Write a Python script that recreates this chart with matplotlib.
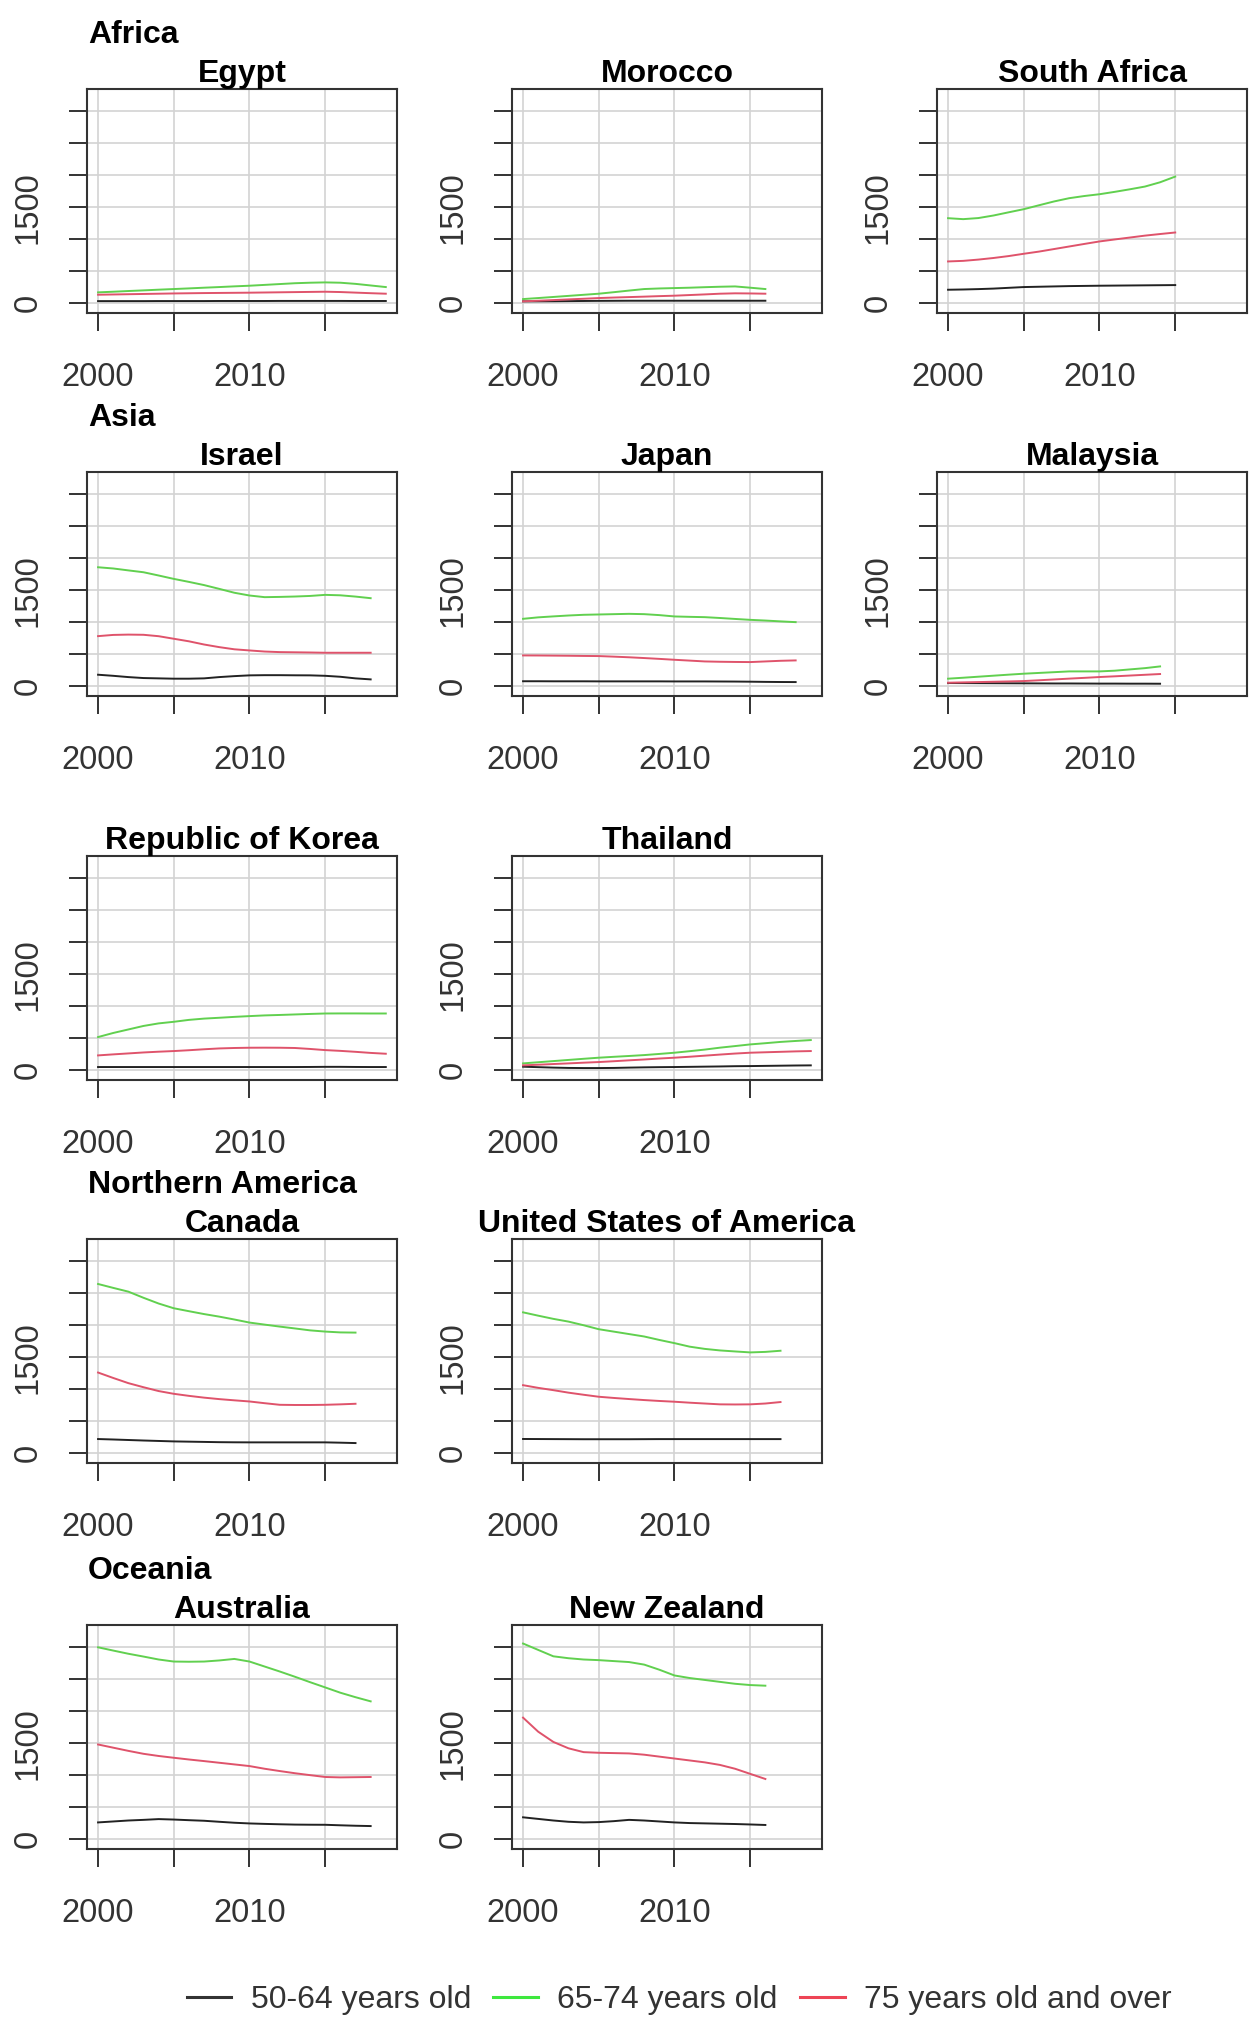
import matplotlib
matplotlib.use("Agg")
import matplotlib.pyplot as plt
from matplotlib.lines import Line2D

plt.rcParams["font.family"] = ["Liberation Sans", "DejaVu Sans"]

W, H = 1255, 2025

# age groups
age_labels = ["50-64 years old", "65-74 years old", "75 years old and over"]
line_colors = ["#222222", "#61D04F", "#DF536B"]
legend_colors = ["#333333", "#3EE83E", "#EE4455"]

# ---- data (per year) ----
egypt_years = list(range(2000, 2020))
egypt_b = [30, 30, 30, 30, 31, 31, 31, 31, 32, 32, 32, 32, 33, 33, 33, 33, 33, 32, 32, 32]
egypt_g = [167, 177, 188, 198, 209, 219, 229, 240, 250, 261, 271, 284, 297, 310, 318, 323, 318, 300, 275, 250]
egypt_r = [130, 134, 138, 142, 146, 150, 153, 156, 158, 160, 162, 165, 168, 171, 174, 177, 172, 163, 154, 146]

morocco_years = list(range(2000, 2017))
morocco_b = [26, 27, 28, 30, 32, 34, 35, 36, 36, 36, 36, 36, 36, 36, 36, 36, 36]
morocco_g = [62, 78, 95, 112, 129, 146, 170, 195, 219, 228, 234, 240, 248, 255, 260, 240, 219]
morocco_r = [26, 36, 46, 57, 67, 78, 86, 93, 100, 108, 115, 125, 135, 146, 152, 150, 146]

safrica_years = list(range(2000, 2016))
safrica_b = [208, 212, 218, 226, 238, 250, 255, 260, 265, 268, 271, 273, 275, 277, 279, 281]
safrica_g = [1328, 1313, 1330, 1370, 1420, 1469, 1530, 1590, 1641, 1675, 1703, 1740, 1780, 1823, 1890, 1979]
safrica_r = [651, 660, 680, 705, 735, 771, 805, 845, 885, 925, 964, 995, 1025, 1055, 1080, 1104]

israel_years = list(range(2000, 2019))
israel_b = [177, 160, 140, 125, 120, 115, 115, 120, 140, 155, 167, 170, 170, 168, 167, 160, 145, 120, 104]
israel_g = [1859, 1840, 1810, 1781, 1730, 1677, 1630, 1580, 1521, 1460, 1417, 1391, 1395, 1401, 1410, 1427, 1420, 1400, 1375]
israel_r = [781, 800, 805, 802, 780, 740, 700, 650, 609, 575, 557, 540, 531, 528, 525, 521, 521, 521, 521]

japan_years = list(range(2000, 2019))
japan_b = [75, 75, 74, 74, 74, 73, 73, 73, 73, 73, 72, 72, 72, 71, 70, 68, 65, 63, 62]
japan_g = [1052, 1075, 1090, 1104, 1115, 1120, 1125, 1130, 1125, 1110, 1089, 1083, 1078, 1065, 1050, 1036, 1025, 1012, 1000]
japan_r = [479, 478, 476, 474, 471, 469, 460, 450, 438, 425, 411, 398, 385, 380, 377, 375, 385, 395, 401]

malaysia_years = list(range(2000, 2015))
malaysia_b = [47, 46, 45, 44, 43, 42, 41, 40, 40, 39, 38, 38, 37, 37, 36]
malaysia_g = [115, 130, 146, 162, 178, 193, 205, 217, 229, 229, 229, 240, 260, 280, 307]
malaysia_r = [52, 57, 62, 67, 72, 78, 90, 103, 116, 128, 141, 152, 164, 176, 188]

korea_years = list(range(2000, 2020))
korea_b = [47, 47, 47, 47, 47, 47, 47, 47, 47, 47, 47, 47, 47, 47, 48, 50, 50, 48, 47, 47]
korea_g = [516, 580, 635, 690, 730, 755, 785, 805, 818, 832, 844, 855, 862, 870, 878, 885, 886, 886, 885, 885]
korea_r = [229, 245, 260, 275, 287, 297, 310, 325, 338, 345, 349, 350, 349, 345, 330, 312, 300, 285, 268, 255]

thailand_years = list(range(2000, 2020))
thailand_b = [52, 45, 38, 33, 31, 31, 33, 38, 42, 45, 47, 50, 53, 56, 60, 62, 65, 68, 71, 73]
thailand_g = [104, 122, 140, 158, 176, 193, 207, 220, 234, 252, 271, 295, 320, 350, 375, 401, 420, 440, 455, 469]
thailand_r = [73, 83, 94, 104, 115, 125, 138, 152, 165, 180, 193, 208, 225, 242, 258, 271, 278, 285, 292, 297]

canada_years = list(range(2000, 2018))
canada_b = [219, 212, 204, 196, 189, 182, 178, 174, 170, 168, 167, 167, 167, 167, 167, 167, 162, 156]
canada_g = [2646, 2585, 2526, 2430, 2340, 2266, 2220, 2175, 2135, 2090, 2042, 2010, 1979, 1950, 1920, 1901, 1888, 1885]
canada_r = [1260, 1175, 1094, 1030, 970, 927, 895, 867, 844, 825, 807, 780, 755, 752, 752, 755, 762, 771]

usa_years = list(range(2000, 2018))
usa_b = [220, 219, 218, 217, 216, 216, 216, 216, 217, 218, 218, 218, 218, 218, 218, 218, 218, 218]
usa_g = [2202, 2150, 2100, 2057, 2000, 1938, 1900, 1862, 1824, 1770, 1720, 1665, 1630, 1606, 1590, 1575, 1583, 1601]
usa_r = [1062, 1020, 984, 945, 912, 881, 862, 845, 829, 815, 803, 788, 775, 762, 760, 762, 775, 798]

australia_years = list(range(2000, 2019))
australia_b = [260, 275, 290, 300, 312, 305, 295, 286, 270, 255, 244, 237, 231, 226, 224, 223, 215, 208, 203]
australia_g = [3001, 2950, 2900, 2856, 2810, 2778, 2775, 2778, 2795, 2819, 2778, 2700, 2622, 2540, 2455, 2373, 2290, 2220, 2155]
australia_r = [1480, 1430, 1380, 1334, 1300, 1272, 1245, 1220, 1194, 1168, 1142, 1100, 1064, 1030, 1000, 971, 965, 968, 971]

nz_years = list(range(2000, 2017))
nz_b = [340, 315, 290, 270, 260, 265, 280, 300, 290, 275, 260, 250, 245, 240, 235, 228, 220]
nz_g = [3060, 2960, 2860, 2830, 2810, 2800, 2785, 2770, 2730, 2650, 2560, 2520, 2490, 2460, 2430, 2410, 2400]
nz_r = [1900, 1680, 1520, 1420, 1360, 1350, 1345, 1340, 1320, 1290, 1260, 1230, 1200, 1160, 1100, 1020, 940]

x_ticks = [2000, 2005, 2010, 2015]
x_ticklabels = ["2000", "", "2010", ""]
y_ticks = [0, 500, 1000, 1500, 2000, 2500, 3000]
y_ticklabels = ["0", "", "", "1500", "", "", ""]

# (row, col, country, region label or None, years, black, green, red)
panels = [
    (0, 0, "Egypt", "Africa", egypt_years, egypt_b, egypt_g, egypt_r),
    (0, 1, "Morocco", None, morocco_years, morocco_b, morocco_g, morocco_r),
    (0, 2, "South Africa", None, safrica_years, safrica_b, safrica_g, safrica_r),
    (1, 0, "Israel", "Asia", israel_years, israel_b, israel_g, israel_r),
    (1, 1, "Japan", None, japan_years, japan_b, japan_g, japan_r),
    (1, 2, "Malaysia", None, malaysia_years, malaysia_b, malaysia_g, malaysia_r),
    (2, 0, "Republic of Korea", None, korea_years, korea_b, korea_g, korea_r),
    (2, 1, "Thailand", None, thailand_years, thailand_b, thailand_g, thailand_r),
    (3, 0, "Canada", "Northern America", canada_years, canada_b, canada_g, canada_r),
    (3, 1, "United States of America", None, usa_years, usa_b, usa_g, usa_r),
    (4, 0, "Australia", "Oceania", australia_years, australia_b, australia_g, australia_r),
    (4, 1, "New Zealand", None, nz_years, nz_b, nz_g, nz_r),
]

col_left = [87, 512, 937]
row_top = [89, 472, 856, 1239, 1625]
box_w, box_h = 310, 224

fig = plt.figure(figsize=(W / 100, H / 100), dpi=100)

for row, col, name, region, years, yb, yg, yr in panels:
    left, top = col_left[col], row_top[row]
    ax = fig.add_axes([left / W, 1 - (top + box_h) / H, box_w / W, box_h / H])
    ax.plot(years, yb, color=line_colors[0], lw=1.4)
    ax.plot(years, yg, color=line_colors[1], lw=1.4)
    ax.plot(years, yr, color=line_colors[2], lw=1.4)
    ax.set_xlim(1999.27, 2019.74)
    ax.set_ylim(-156, 3350)
    ax.set_xticks(x_ticks)
    ax.set_xticklabels(x_ticklabels)
    ax.set_yticks(y_ticks)
    ax.set_yticklabels(y_ticklabels)
    ax.grid(True, color="#d3d3d3", lw=1.2)
    ax.set_axisbelow(True)
    for s in ax.spines.values():
        s.set_color("#333333")
        s.set_linewidth(1.5)
    ax.tick_params(axis="both", direction="out", length=13, width=1.4,
                   color="#333333", labelsize=23.5, labelcolor="#333333")
    ax.tick_params(axis="x", pad=22)
    ax.tick_params(axis="y", pad=18)
    for lab in ax.get_yticklabels():
        lab.set_rotation(90)
        lab.set_verticalalignment("center")
    ax.set_title(name, fontsize=23, fontweight="bold", pad=4)
    if region:
        fig.text((left + 1) / W, 1 - (top - 46) / H, region, fontsize=23,
                 fontweight="bold", ha="left", va="baseline")

handles = [Line2D([0], [0], color=c, lw=2.2) for c in legend_colors]
fig.legend(handles, age_labels, loc="center", bbox_to_anchor=(679 / W, 1 - 2000 / H),
           ncol=3, frameon=False, fontsize=23, handlelength=1.4, handletextpad=0.6,
           columnspacing=0.7, labelcolor="#333333")

fig.savefig("out.png", dpi=100)
